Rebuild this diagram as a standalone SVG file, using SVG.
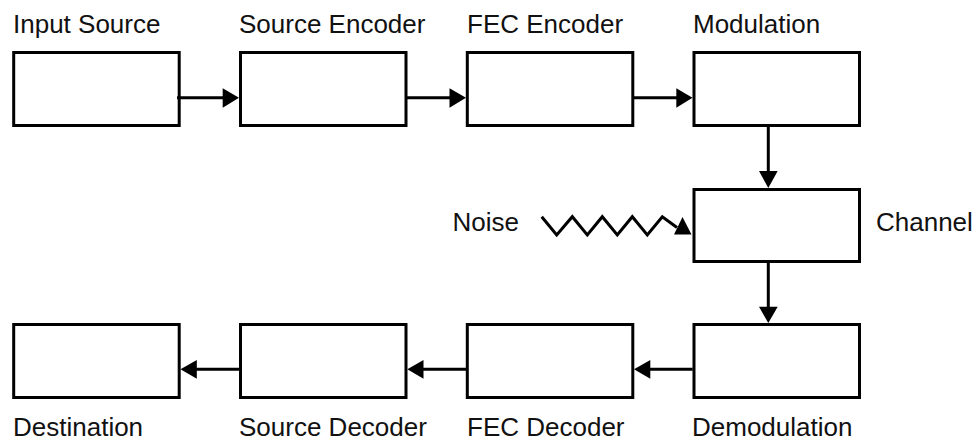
<svg xmlns="http://www.w3.org/2000/svg" width="978" height="443" viewBox="0 0 978 443">
<defs>
<style>
.box{fill:#fff;stroke:#000;stroke-width:3}
.ln{fill:none;stroke:#000;stroke-width:3}
.hd{fill:#000;stroke:none}
text{font-family:"Liberation Sans",Arial,sans-serif;font-size:26px;fill:#111}
</style>
</defs>
<rect width="978" height="443" fill="#fff"/>
<g id="input-source"><rect class="box" x="13.7" y="52.5" width="165.5" height="73"/><text x="13" y="33">Input Source</text></g>
<g id="source-encoder"><rect class="box" x="240.5" y="52.5" width="165.5" height="73"/><text x="239" y="33">Source Encoder</text></g>
<g id="fec-encoder"><rect class="box" x="467.3" y="52.5" width="165.5" height="73"/><text x="467" y="33">FEC Encoder</text></g>
<g id="modulation"><rect class="box" x="694" y="52.5" width="165.5" height="73"/><text x="693" y="33">Modulation</text></g>
<g id="channel"><rect class="box" x="694" y="189.5" width="165.5" height="72"/><text x="876" y="231">Channel</text></g>
<g id="noise"><text x="452.5" y="231">Noise</text></g>
<g id="demodulation"><rect class="box" x="694" y="324.5" width="165.5" height="73"/><text x="692" y="436">Demodulation</text></g>
<g id="fec-decoder"><rect class="box" x="467.3" y="324.5" width="165.5" height="73"/><text x="467" y="436">FEC Decoder</text></g>
<g id="source-decoder"><rect class="box" x="240.5" y="324.5" width="165.5" height="73"/><text x="239" y="436">Source Decoder</text></g>
<g id="destination"><rect class="box" x="13.7" y="324.5" width="165.5" height="73"/><text x="13" y="436">Destination</text></g>
<g id="connectors">
<line class="ln" x1="177" y1="97.7" x2="224" y2="97.7"/><polygon class="hd" points="239,97.7 222.7,88.3 222.7,107.7"/>
<line class="ln" x1="406" y1="97.7" x2="451" y2="97.7"/><polygon class="hd" points="466,97.7 449.5,88.3 449.5,107.7"/>
<line class="ln" x1="633" y1="97.7" x2="678" y2="97.7"/><polygon class="hd" points="692.5,97.7 676.3,88.3 676.3,107.7"/>
<line class="ln" x1="768.3" y1="127" x2="768.3" y2="172"/><polygon class="hd" points="768.3,188 759,171 777.7,171"/>
<line class="ln" x1="768.3" y1="263" x2="768.3" y2="308"/><polygon class="hd" points="768.3,323 759,306.7 777.7,306.7"/>
<line class="ln" x1="692.7" y1="369.3" x2="649" y2="369.3"/><polygon class="hd" points="634,369.3 650.3,360 650.3,378.7"/>
<line class="ln" x1="466" y1="369.3" x2="422" y2="369.3"/><polygon class="hd" points="407.3,369.3 423.5,360 423.5,378.7"/>
<line class="ln" x1="239.3" y1="369.3" x2="196" y2="369.3"/><polygon class="hd" points="180.5,369.3 196.8,360 196.8,378.7"/>
<polyline class="ln" stroke-linejoin="miter" points="541.7,216.7 556.7,235 572.3,216.7 587.3,235 602.3,216.7 617.3,235 632.3,216.7 647.3,235 662.3,216.7 677,227.5"/>
<polygon class="hd" points="674,234.5 691.5,234.5 682.5,217"/>
</g>
</svg>
